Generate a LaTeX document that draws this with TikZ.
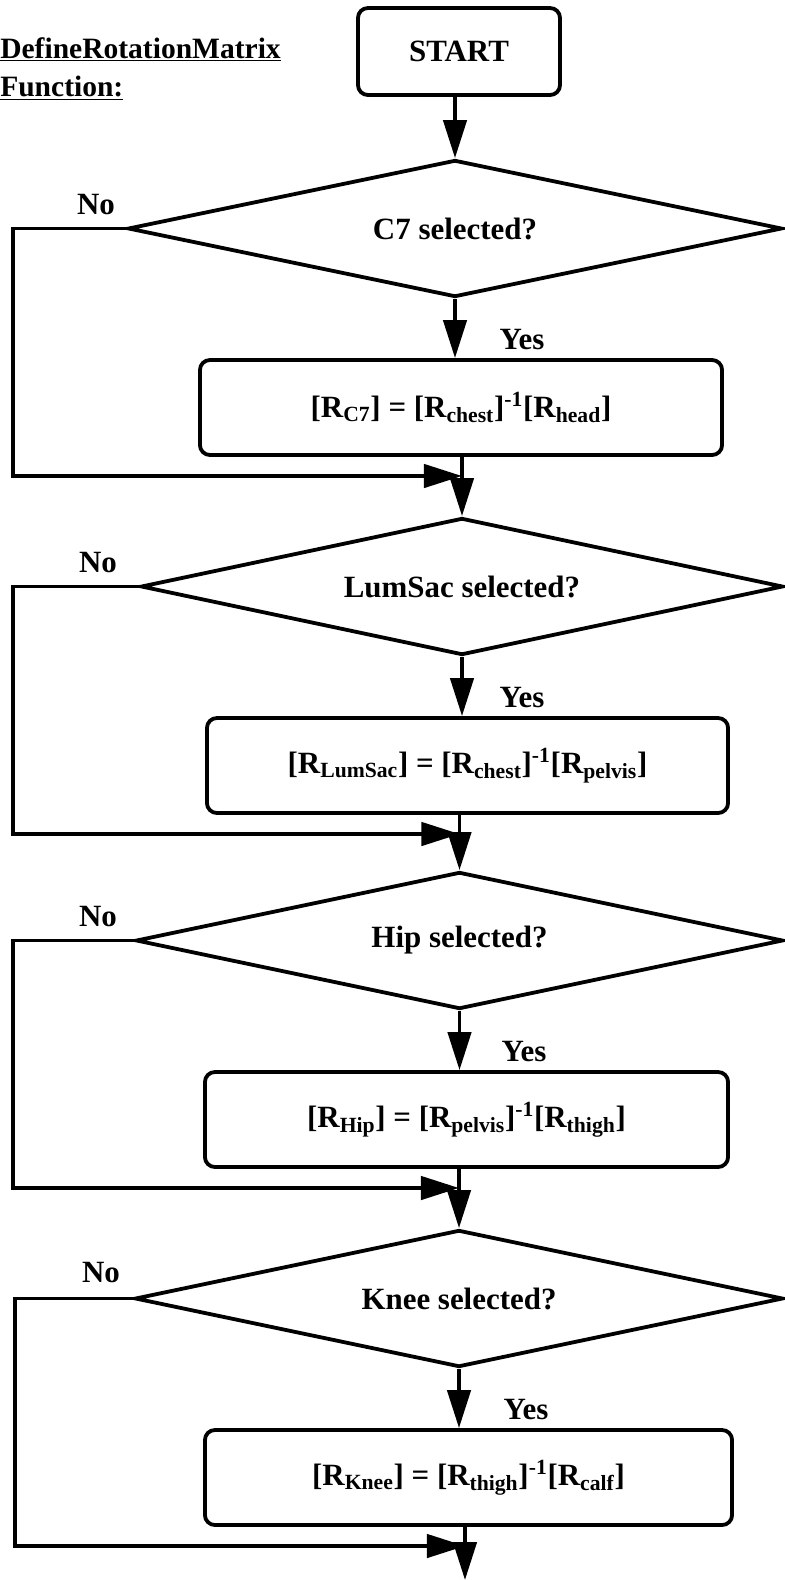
\documentclass[tikz,border=0pt]{standalone}
\usepackage{fontspec}
\setmainfont{Liberation Serif}
\usepackage{tikz}
\usetikzlibrary{arrows.meta, positioning, shapes.geometric}

\begin{document}
\begin{tikzpicture}[
    x=0.025cm, y=-0.025cm,
    every node/.style={font=\fontsize{22}{26}\selectfont\bfseries},
    stepbox/.style={draw, line width=2.7pt, rounded corners=0.25cm, inner sep=0pt, minimum height=2.375cm},
    decision/.style={draw, diamond, aspect=4.5, line width=2.7pt, inner sep=0pt, minimum height=3.425cm},
    arr/.style={line width=2.7pt, -{Triangle[length=0.95cm, width=0.58cm]}}
]
\useasboundingbox (0,0) rectangle (784,1580);
\node[anchor=north west, inner sep=0pt, align=left, font=\fontsize{21}{27.5}\selectfont\bfseries] (title) at (0,37) {\underline{DefineRotationMatrix}\\\underline{Function:}};
\node[stepbox, minimum width=5.05cm, minimum height=2.175cm] (start) at (459,51.5) {START};
% decision 1
\node[decision, minimum width=16.35cm] (d1) at (455,228.5) {C7 selected?};
\node[stepbox, minimum width=13.05cm] (b1) at (461,407.5) {[R\textsubscript{C7}] = [R\textsubscript{chest}]\textsuperscript{-1}[R\textsubscript{head}]};
\coordinate (m1) at (462,476);
% decision 2
\node[decision, minimum width=16.05cm] (d2) at (462,586.5) {LumSac selected?};
\node[stepbox, minimum width=13.025cm] (b2) at (467.5,765.5) {[R\textsubscript{LumSac}] = [R\textsubscript{chest}]\textsuperscript{-1}[R\textsubscript{pelvis}]};
\coordinate (m2) at (459.5,834);
% decision 3
\node[decision, minimum width=16.175cm] (d3) at (459.5,940.5) {Hip selected?};
\node[stepbox, minimum width=13.075cm] (b3) at (466.5,1119.5) {[R\textsubscript{Hip}] = [R\textsubscript{pelvis}]\textsuperscript{-1}[R\textsubscript{thigh}]};
\coordinate (m3) at (459,1188);
% decision 4
\node[decision, minimum width=16.2cm] (d4) at (459,1298.5) {Knee selected?};
\node[stepbox, minimum width=13.175cm] (b4) at (468.5,1477.5) {[R\textsubscript{Knee}] = [R\textsubscript{thigh}]\textsuperscript{-1}[R\textsubscript{calf}]};
\coordinate (m4) at (465,1546);
\coordinate (end) at (465,1580);
% labels
\node (no1) at (96,205) {No};
\node (no2) at (98,563) {No};
\node (no3) at (98,917) {No};
\node (no4) at (101,1273) {No};
\node (yes1) at (522,340) {Yes};
\node (yes2) at (522,698) {Yes};
\node (yes3) at (524,1052) {Yes};
\node (yes4) at (526,1410) {Yes};
% main flow
\draw[arr] (start.south -| d1.north) -- (d1.north);
\draw[arr] (d1.south) -- (d1.south |- b1.north);
\draw[arr] (b1.south -| d2.north) -- (d2.north);
\draw[arr] (d2.south) -- (d2.south |- b2.north);
\draw[arr] (b2.south -| d3.north) -- (d3.north);
\draw[arr] (d3.south) -- (d3.south |- b3.north);
\draw[arr] (b3.south -| d4.north) -- (d4.north);
\draw[arr] (d4.south) -- (d4.south |- b4.north);
\draw[arr] (b4.south -| end) -- (end);
% no branches
\draw[arr] (d1.west) -- ++(-113,0) |- (m1);
\draw[arr] (d2.west) -- ++(-126,0) |- (m2);
\draw[arr] (d3.west) -- ++(-121,0) |- (m3);
\draw[arr] (d4.west) -- ++(-118,0) |- (m4);
\end{tikzpicture}
\end{document}
